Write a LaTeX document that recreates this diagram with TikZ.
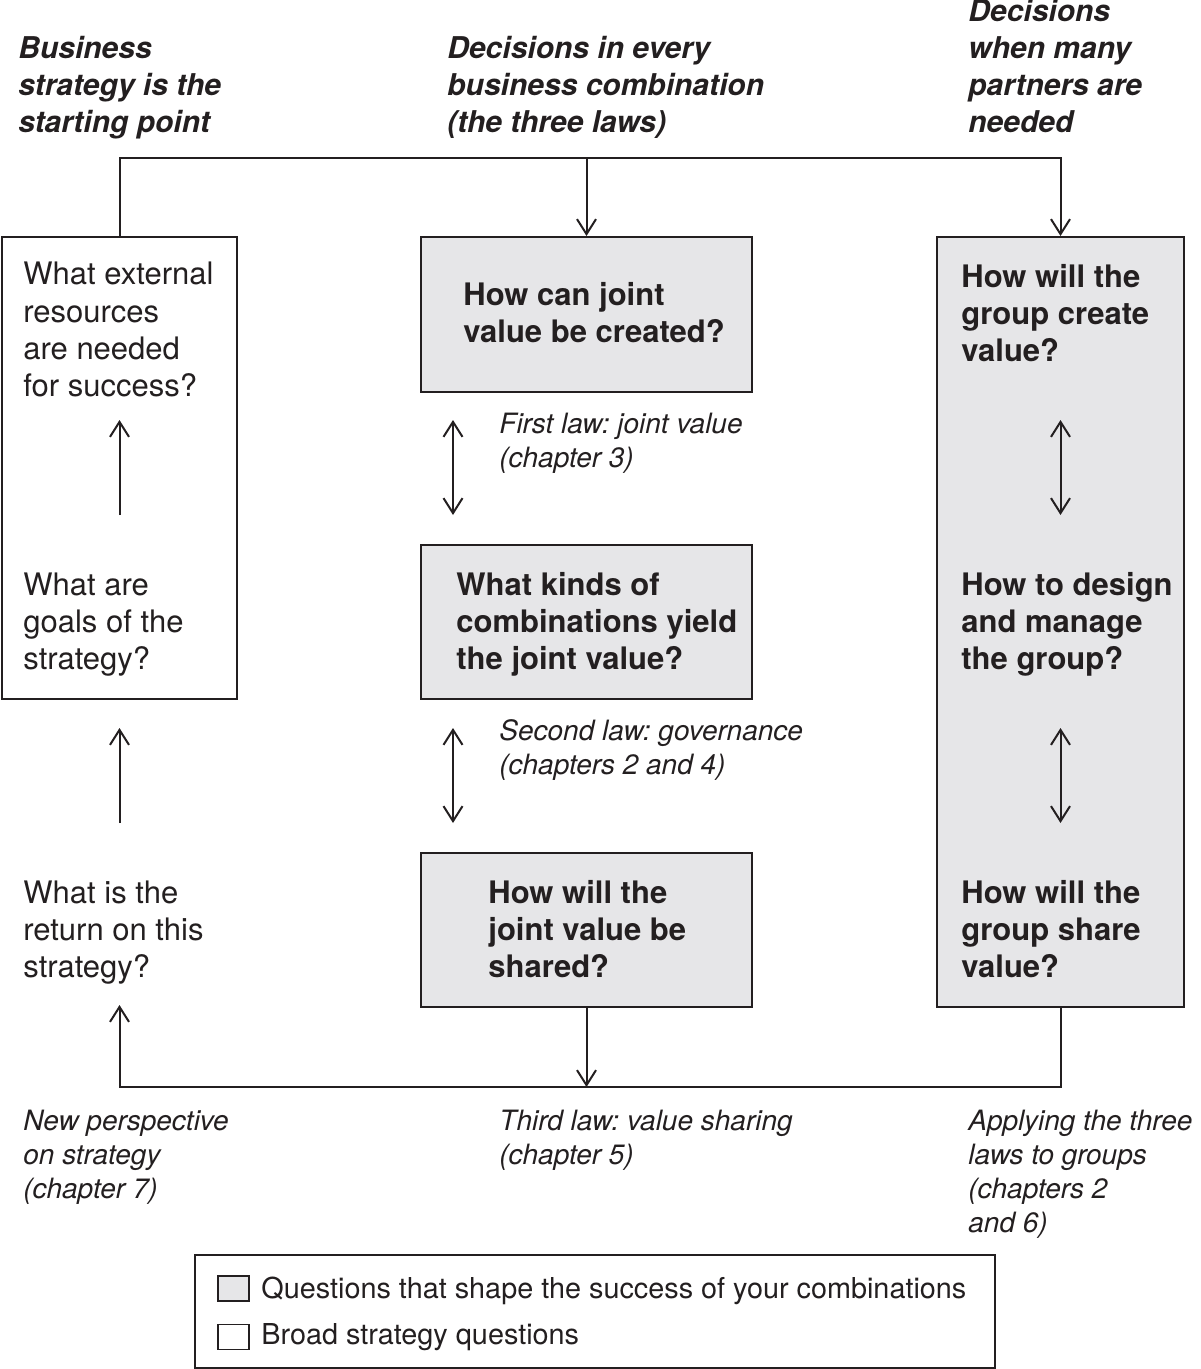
\documentclass[tikz,border=0pt]{standalone}
\usepackage{fontspec}
\setmainfont{TeX Gyre Heros}
\usetikzlibrary{arrows.meta}
\definecolor{boxgray}{RGB}{230,230,232}
\definecolor{ink}{RGB}{35,31,32}
\frenchspacing
\newcommand\bodyf{\fontsize{15.5}{18.5}\selectfont}
\newcommand\boldf{\fontsize{15.5}{18.5}\selectfont\bfseries}
\newcommand\labf{\fontsize{14}{17}\selectfont\itshape}
\newcommand\headf{\fontsize{15}{18.5}\selectfont\bfseries\itshape}
\newcommand\legf{\fontsize{14.4}{17}\selectfont}
\begin{document}
\begin{tikzpicture}[x=0.5pt,y=-0.5pt,
  txt/.style={inner sep=0pt, anchor=base west, align=left, text=ink},
  box/.style={draw=ink, line width=1pt, inner sep=0pt},
  gbox/.style={box, fill=boxgray},
  ln/.style={draw=ink, line width=1pt},
  arr/.style={ln, -{Straight Barb[length=7.5pt,width=9.5pt]}},
  darr/.style={ln, {Straight Barb[length=7.5pt,width=9.5pt]}-{Straight Barb[length=7.5pt,width=9.5pt]}}]
\useasboundingbox (0,0) rectangle (1200,1369);
% boxes
\node[box, fill=white, minimum width=117.5pt, minimum height=231pt] (lbox) at (119.5,468) {};
\node[gbox, minimum width=165.5pt, minimum height=77.5pt] (mb1) at (586.5,314.5) {};
\node[gbox, minimum width=165.5pt, minimum height=77pt] (mb2) at (586.5,622) {};
\node[gbox, minimum width=165.5pt, minimum height=77pt] (mb3) at (586.5,930) {};
\node[gbox, minimum width=123.5pt, minimum height=385pt] (rbox) at (1060.5,622) {};
% headers (anchored at last-line baseline)
\node[txt, font=\headf] (h1) at (18,133) {Business\\strategy is the\\starting point};
\node[txt, font=\headf] (h2) at (447,133) {Decisions in every\\business combination\\(the three laws)};
\node[txt, font=\headf] (h3) at (968,133) {Decisions\\when many\\partners are\\needed};
% left texts
\node[txt, font=\bodyf] (l1) at (23,396) {What external\\resources\\are needed\\for success?};
\node[txt, font=\bodyf] (l2) at (23,669) {What are\\goals of the\\strategy?};
\node[txt, font=\bodyf] (l3) at (23,977) {What is the\\return on this\\strategy?};
% middle texts
\node[txt, font=\boldf] (m1) at (463,343) {How can joint\\value be created?};
\node[txt, font=\boldf] (m2) at (456,669) {What kinds of\\combinations yield\\the joint value?};
\node[txt, font=\boldf] (m3) at (488,977) {How will the\\joint value be\\shared?};
% right texts
\node[txt, font=\boldf] (r1) at (961,362) {How will the\\group create\\value?};
\node[txt, font=\boldf] (r2) at (961,669) {How to design\\and manage\\the group?};
\node[txt, font=\boldf] (r3) at (961,977) {How will the\\group share\\value?};
% italic labels
\node[txt, font=\labf] (lab1) at (499,467) {First law: joint value\\(chapter 3)};
\node[txt, font=\labf] (lab2) at (499,774) {Second law: governance\\(chapters 2 and 4)};
\node[txt, font=\labf] (lab3) at (23,1198) {New perspective\\on strategy\\(chapter 7)};
\node[txt, font=\labf] (lab4) at (499,1164) {Third law: value sharing\\(chapter 5)};
\node[txt, font=\labf] (lab5) at (968,1232) {Applying the three\\laws to groups\\(chapters 2\\and 6)};
% connectors
\coordinate (tr) at (1060.5,158);
\coordinate (bl) at (119.5,1087);
\coordinate (lret) at (119.5,1005);
\draw[arr] (lbox.north) |- (tr) -- (rbox.north);
\draw[arr] (mb1.north |- tr) -- (mb1.north);
\draw[arr] (rbox.south) |- (bl) -- (lret);
\draw[arr] (mb3.south) -- (mb3.south |- bl);
\coordinate (u1a) at (119.5,515); \coordinate (u1b) at (119.5,420);
\coordinate (u2a) at (119.5,823); \coordinate (u2b) at (119.5,728);
\draw[arr] (u1a) -- (u1b);
\draw[arr] (u2a) -- (u2b);
\coordinate (d1a) at (453,420); \coordinate (d1b) at (453,515);
\coordinate (d2a) at (453,728); \coordinate (d2b) at (453,823);
\coordinate (d3a) at (1060.5,420); \coordinate (d3b) at (1060.5,515);
\coordinate (d4a) at (1060.5,728); \coordinate (d4b) at (1060.5,823);
\draw[darr] (d1a) -- (d1b);
\draw[darr] (d2a) -- (d2b);
\draw[darr] (d3a) -- (d3b);
\draw[darr] (d4a) -- (d4b);
% legend
\node[box, fill=white, minimum width=400pt, minimum height=56.5pt] (leg) at (595,1311) {};
\node[gbox, line width=0.8pt, minimum width=15.5pt, minimum height=12.5pt] (sq1) at (233.5,1288.5) {};
\node[box, line width=0.8pt, fill=white, minimum width=15.5pt, minimum height=12.5pt] (sq2) at (233.5,1337) {};
\node[txt, font=\legf] (lg1) at (261,1298) {Questions that shape the success of your combinations};
\node[txt, font=\legf] (lg2) at (261,1344) {Broad strategy questions};
\end{tikzpicture}
\end{document}
